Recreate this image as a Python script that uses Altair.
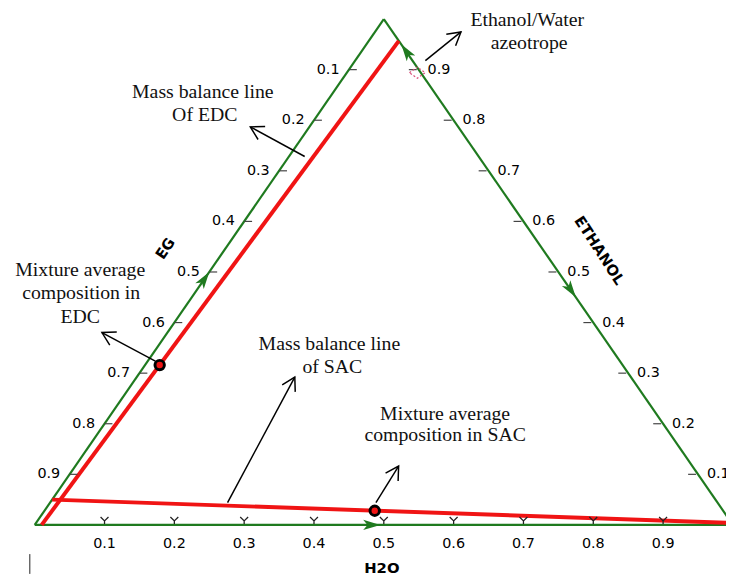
import math
import altair as alt
import pandas as pd

# ------------------------------------------------------------------ data
TICK_VALUES = [0.1, 0.2, 0.3, 0.4, 0.5, 0.6, 0.7, 0.8, 0.9]
TICK_LABELS = ["0.1", "0.2", "0.3", "0.4", "0.5", "0.6", "0.7", "0.8", "0.9"]

# triangle vertices (mass fractions of H2O and ETHANOL; EG = 1 - both)
VERTEX_NAMES = ["EG", "H2O", "ETHANOL"]
VERTEX_H2O = [0.0, 1.0, 0.0]
VERTEX_ETH = [0.0, 0.0, 1.0]

# mass balance lines (end compositions)
EDC_LINE_H2O = [0.010, 0.043]
EDC_LINE_ETH = [0.000, 0.957]
SAC_LINE_H2O = [0.000, 0.996]
SAC_LINE_ETH = [0.050, 0.004]

# mixture average compositions
MIX_NAMES = ["EDC", "SAC"]
MIX_H2O = [0.021, 0.473]
MIX_ETH = [0.316, 0.028]

# ethanol / water azeotrope marker
AZEO_H2O = [0.101]
AZEO_ETH = [0.894]

# direction arrows on the edges: tip composition and edge (from -> to)
DIR_H2O = [0.495, 0.000, 0.550, 0.050]
DIR_ETH = [0.000, 0.500, 0.450, 0.950]
DIR_FROM = ["EG", "EG", "ETHANOL", "H2O"]
DIR_TO = ["H2O", "ETHANOL", "H2O", "ETHANOL"]

# annotation texts, positions in the composition plane (X = H2O + ETH/2, Y = ETH)
NOTE_TEXT = ["Ethanol/Water", "azeotrope",
             "Mass balance line", "Of EDC",
             "Mixture average", "composition in", "EDC",
             "Mass balance line", "of SAC",
             "Mixture average", "composition in SAC"]
NOTE_X = [0.7054, 0.7082, 0.2408, 0.2436, 0.0652, 0.0666, 0.0652,
          0.4221, 0.4263, 0.5878, 0.5878]
NOTE_Y = [0.9980, 0.9531, 0.8553, 0.8104, 0.5034, 0.4585, 0.4115,
          0.3568, 0.3118, 0.2199, 0.1769]

# annotation arrows (tail -> tip), composition-plane coordinates
ARROW_X0 = [0.5595, 0.3867, 0.1728, 0.2762, 0.4887]
ARROW_Y0 = [0.9179, 0.7283, 0.3236, 0.0440, 0.0440]
ARROW_X1 = [0.6105, 0.3088, 0.0963, 0.3725, 0.5212]
ARROW_Y1 = [0.9746, 0.7869, 0.3803, 0.2923, 0.1163]

# axis titles
TITLE_TEXT = ["EG", "ETHANOL", "H2O"]
TITLE_X = [0.1870, 0.8088, 0.4972]
TITLE_Y = [0.5464, 0.5425, -0.0850]
TITLE_ANGLE = [304, 57, 0]

# ------------------------------------------------------------------ layout
W, H = 726, 570
PX, PY = 706.0, 511.5           # pixels per unit of composition
XMIN = -27.0 / PX
XMAX = XMIN + W / PX
YMAX = 1.0 + 8.0 / PY
YMIN = -(H - 519.5) / PY

GREEN = "#1f7a1f"
RED = "#f01414"

xs = alt.Scale(domain=[XMIN, XMAX], nice=False, zero=False)
ys = alt.Scale(domain=[YMIN, YMAX], nice=False, zero=False)


def plane(h2o, eth):
    return h2o + 0.5 * eth, eth


def screen_angle(x0, y0, x1, y1):
    return math.degrees(math.atan2(-(y1 - y0) * PY, (x1 - x0) * PX)) % 360


X = alt.X("x:Q", scale=xs, axis=None)
Y = alt.Y("y:Q", scale=ys, axis=None)
X2 = alt.X2("x2:Q")
Y2 = alt.Y2("y2:Q")

# edges
vx = {}
for n, h, e in zip(VERTEX_NAMES, VERTEX_H2O, VERTEX_ETH):
    vx[n] = plane(h, e)
edge_rows = []
for a, b in [("EG", "H2O"), ("H2O", "ETHANOL"), ("ETHANOL", "EG")]:
    edge_rows.append({"x": vx[a][0], "y": vx[a][1], "x2": vx[b][0], "y2": vx[b][1]})
edges = alt.Chart(pd.DataFrame(edge_rows)).mark_rule(
    color=GREEN, strokeWidth=2.2).encode(x=X, y=Y, x2=X2, y2=Y2)

# red mass balance lines
red_rows = []
for hs, es in [(EDC_LINE_H2O, EDC_LINE_ETH), (SAC_LINE_H2O, SAC_LINE_ETH)]:
    a = plane(hs[0], es[0])
    b = plane(hs[1], es[1])
    red_rows.append({"x": a[0], "y": a[1], "x2": b[0], "y2": b[1]})
red = alt.Chart(pd.DataFrame(red_rows)).mark_rule(
    color=RED, strokeWidth=4).encode(x=X, y=Y, x2=X2, y2=Y2)

# ticks
bottom = pd.DataFrame({"x": TICK_VALUES, "y": [0.0] * 9, "label": TICK_LABELS})
left = pd.DataFrame({"x": [0.5 * (1 - v) for v in TICK_VALUES],
                     "y": [1 - v for v in TICK_VALUES], "label": TICK_LABELS})
right = pd.DataFrame({"x": [1 - 0.5 * v for v in TICK_VALUES],
                      "y": TICK_VALUES, "label": TICK_LABELS})
for d in (left, right):
    d["x2"] = d["x"]
    d["y2"] = d["y"]

FONT = "DejaVu Sans"
FS = 14.5
lab_bottom = alt.Chart(bottom).mark_text(
    font=FONT, fontSize=FS, color="#000", dy=19, baseline="middle").encode(
    x=X, y=Y, text="label:N")
chev = alt.Chart(bottom).mark_point(
    shape="M-1,-1L0,0L1,-1M0,0L0,0.8", filled=False, size=64, strokeWidth=1.3,
    color="#222", yOffset=-4, opacity=1).encode(x=X, y=Y)
lab_left = alt.Chart(left).mark_text(
    font=FONT, fontSize=FS, color="#000", align="right", dx=-9.5,
    baseline="middle").encode(x=X, y=Y, text="label:N")
dash_left = alt.Chart(left).mark_rule(
    color="#444", strokeWidth=1.2, xOffset=0, x2Offset=8).encode(x=X, y=Y, x2=X2, y2=Y2)
lab_right = alt.Chart(right).mark_text(
    font=FONT, fontSize=FS, color="#000", align="left", dx=9,
    baseline="middle").encode(x=X, y=Y, text="label:N")
dash_right = alt.Chart(right).mark_rule(
    color="#444", strokeWidth=1.2, xOffset=-10, x2Offset=-2).encode(x=X, y=Y, x2=X2, y2=Y2)

# titles
titles = []
for t, x, y, a in zip(TITLE_TEXT, TITLE_X, TITLE_Y, TITLE_ANGLE):
    titles.append(alt.Chart(pd.DataFrame({"x": [x], "y": [y], "t": [t]})).mark_text(
        font=FONT, fontSize=15, fontWeight="bold", color="#000", angle=a,
        baseline="middle").encode(x=X, y=Y, text="t:N"))

# green direction arrowheads
dir_rows = []
for h, e, f, t in zip(DIR_H2O, DIR_ETH, DIR_FROM, DIR_TO):
    x, y = plane(h, e)
    ang = screen_angle(vx[f][0], vx[f][1], vx[t][0], vx[t][1])
    dir_rows.append({"x": x, "y": y, "ang": ang})
dirs = alt.Chart(pd.DataFrame(dir_rows)).mark_point(
    shape="M0,0L-2,-0.6L-1.5,0L-2,0.6Z", filled=True, size=300, color=GREEN,
    opacity=1).encode(x=X, y=Y, angle=alt.Angle("ang:Q", scale=None))

# mixture points
mx = [plane(h, e) for h, e in zip(MIX_H2O, MIX_ETH)]
mix = alt.Chart(pd.DataFrame({"x": [p[0] for p in mx], "y": [p[1] for p in mx],
                              "name": MIX_NAMES})).mark_point(
    shape="circle", filled=True, size=90, fill=RED, stroke="black",
    strokeWidth=3, opacity=1).encode(x=X, y=Y)

# azeotrope marker
az = [plane(h, e) for h, e in zip(AZEO_H2O, AZEO_ETH)]
azeo = alt.Chart(pd.DataFrame({"x": [p[0] for p in az], "y": [p[1] for p in az]})).mark_point(
    shape="M-1,0L0,-0.7L1,0L0,0.7Z", filled=False, size=256, color="#d9507a",
    strokeWidth=1.2, strokeDash=[2, 2], opacity=1).encode(x=X, y=Y)

# annotation texts
notes = alt.Chart(pd.DataFrame({"x": NOTE_X, "y": NOTE_Y, "t": NOTE_TEXT})).mark_text(
    font="Liberation Serif", fontSize=20, color="#111", baseline="middle").encode(
    x=X, y=Y, text="t:N")

# annotation arrows
arr = pd.DataFrame({"x": ARROW_X0, "y": ARROW_Y0, "x2": ARROW_X1, "y2": ARROW_Y1})
shafts = alt.Chart(arr).mark_rule(color="black", strokeWidth=1.5).encode(
    x=X, y=Y, x2=X2, y2=Y2)
heads_df = pd.DataFrame({
    "x": ARROW_X1, "y": ARROW_Y1,
    "ang": [screen_angle(a, b, c, d) for a, b, c, d in
            zip(ARROW_X0, ARROW_Y0, ARROW_X1, ARROW_Y1)]})
heads = alt.Chart(heads_df).mark_point(
    shape="M-2,-1.15L0,0L-2,1.15", filled=False, size=169, color="black",
    strokeWidth=1.5, opacity=1).encode(x=X, y=Y, angle=alt.Angle("ang:Q", scale=None))

# small cursor mark at bottom left
cursor = alt.Chart(pd.DataFrame({"x": [-0.007], "y": [-0.0577], "x2": [-0.007],
                                 "y2": [-0.0968]})).mark_rule(
    color="#222", strokeWidth=1).encode(x=X, y=Y, x2=X2, y2=Y2)

chart = alt.layer(
    edges, red, chev, dash_left, dash_right, lab_bottom, lab_left, lab_right,
    *titles, dirs, azeo, mix, shafts, heads, notes, cursor
).properties(
    width=W, height=H, padding=0,
    autosize=alt.AutoSizeParams(type="none"),
).configure_view(stroke=None)

chart.save("out.html", embed_options={"renderer": "svg", "actions": False})
